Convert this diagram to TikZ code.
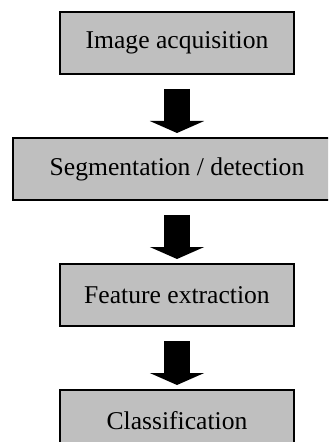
\documentclass[tikz,border=0pt]{standalone}
\usepackage{fontspec}
\setmainfont{Liberation Serif}
\usetikzlibrary{positioning,arrows.meta}
\begin{document}
\begin{tikzpicture}
\tikzstyle{stage}=[rectangle, draw=black, line width=1pt, fill=black!25, minimum width=117pt, minimum height=31pt, font=\fontsize{12.8}{15}\selectfont, node distance=31pt]
\tikzstyle{blockarrow}=[-{Triangle[width=27pt,length=6pt]}, line width=13pt]
\clip (0,0) rectangle (164pt,-221pt);
\node[stage] (acq) at (88.5pt,-21.5pt) {Image acquisition};
\node[stage, minimum width=164pt] (seg) [below=of acq] {Segmentation / detection};
\node[stage] (feat) [below=of seg] {Feature extraction};
\node[stage] (cls) [below=of feat] {Classification};
  % arrows between the stages
  \draw[blockarrow] ([yshift=-7pt]acq.south) -- ([yshift=2pt]seg.north);
  \draw[blockarrow] ([yshift=-7pt]seg.south) -- ([yshift=2pt]feat.north);
  \draw[blockarrow] ([yshift=-7pt]feat.south) -- ([yshift=2pt]cls.north);
\end{tikzpicture}
\end{document}
